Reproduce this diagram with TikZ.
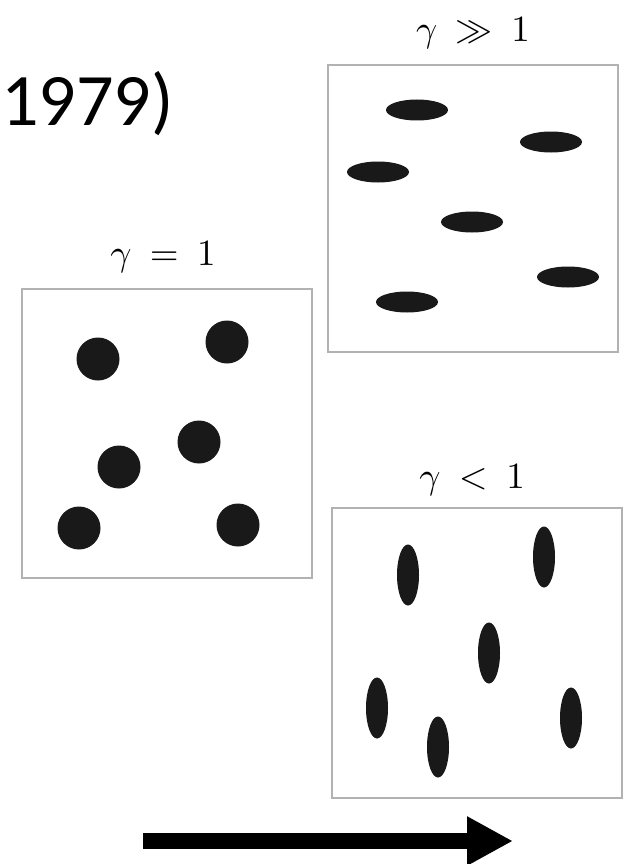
\documentclass[tikz,border=0pt]{standalone}
\usepackage{fontspec}
\newfontfamily\yearfont{Carlito}
\usetikzlibrary{arrows.meta}
\tikzset{
  panel/.style={draw=black!30, line width=1.6pt, fill=white, inner sep=0pt},
  gammalabel/.style={anchor=base, inner sep=0pt, scale=3.7},
  particle/.style={fill=black!90},
  bigarrow/.style={line width=16pt, -{Triangle[length=46pt,width=46pt]}}
}
\begin{document}
\begin{tikzpicture}[x=1pt,y=-1pt]
\useasboundingbox (0,0) rectangle (625,864);
\thickmuskip=9mu
% year text
\node[anchor=base west, inner sep=0pt, font=\yearfont\fontsize{74}{80}\selectfont] (year) at (1,125) {1979)};
% panels
\draw[panel] (328,65) rectangle (618,352);
\node[inner sep=0pt, minimum width=290pt, minimum height=287pt] (pHigh) at (473,208.5) {};
\draw[panel] (22,289) rectangle (312,578);
\node[inner sep=0pt, minimum width=290pt, minimum height=289pt] (pOne) at (167,433.5) {};
\draw[panel] (332,508) rectangle (622,798);
\node[inner sep=0pt, minimum width=290pt, minimum height=290pt] (pLow) at (477,653) {};
% labels
\node[gammalabel] (lHigh) at (473,42) {$\gamma \gg 1$};
\node[gammalabel] (lOne) at (163,265) {$\gamma = 1$};
\node[gammalabel] (lLow) at (472,488) {$\gamma < 1$};
% gamma >> 1 : horizontal ellipses
\foreach \px/\py in {417/110, 551/142, 378/172, 472/222, 568/277, 407/302}
  \fill[particle] (\px,\py) ellipse [x radius=31pt, y radius=10.5pt];
% gamma = 1 : circles
\foreach \px/\py in {98/359, 227/342, 199/442, 119/467, 79/528, 238/525}
  \fill[particle] (\px,\py) circle [radius=21.5pt];
% gamma < 1 : vertical ellipses
\foreach \px/\py in {408/575, 544/557, 489/653, 377/708, 438/747, 571/718}
  \fill[particle] (\px,\py) ellipse [x radius=11pt, y radius=30.5pt];
% arrow
\coordinate (aStart) at (143,841);
\coordinate (aEnd) at (513,841);
\draw[bigarrow] (aStart) -- (aEnd);
\end{tikzpicture}
\end{document}
